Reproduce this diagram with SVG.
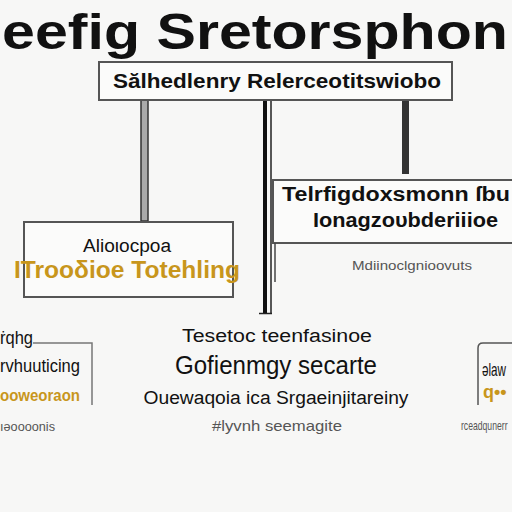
<svg xmlns="http://www.w3.org/2000/svg" width="512" height="512" viewBox="0 0 512 512">
<style>
.box{fill:#fbfbfa;stroke:#555;stroke-width:2}
.blk{font-family:"Liberation Sans",Arial,sans-serif;fill:#111}
.b{font-weight:bold}
.org{font-family:"Liberation Sans",Arial,sans-serif;fill:#c8961c;font-weight:bold}
.gry{font-family:"Liberation Sans",Arial,sans-serif;fill:#555}
</style>
<rect width="512" height="512" fill="#f7f7f6"/>
<g id="title">
<text class="blk b" x="2" y="49" font-size="50" textLength="506" lengthAdjust="spacingAndGlyphs">eefig Sretorsphon</text>
</g>
<g id="connectors">
<rect x="141" y="100" width="7" height="121" fill="#aaa" stroke="#333" stroke-width="1.5"/>
<rect x="263" y="100" width="4" height="213" fill="#111"/>
<line x1="271" y1="100" x2="271" y2="313" stroke="#222" stroke-width="1.5"/>
<line x1="259" y1="313.5" x2="272" y2="313.5" stroke="#222" stroke-width="1.5"/>
<rect x="402" y="100" width="7" height="74" fill="#333"/>
</g>
<g id="top">
<rect class="box" x="99" y="62" width="353" height="38"/>
<text class="blk b" x="113" y="88" font-size="21" textLength="328" lengthAdjust="spacingAndGlyphs">Sălhedlenry  Relerceotitswiobo</text>
</g>
<g id="left">
<rect class="box" x="24" y="222" width="209" height="75"/>
<text class="blk" x="127" y="252" font-size="18" text-anchor="middle" textLength="88" lengthAdjust="spacingAndGlyphs">Alioιocpoa</text>
<text class="org" x="14" y="278" font-size="23" textLength="226" lengthAdjust="spacingAndGlyphs">ITrooδioe Totehling</text>
</g>
<g id="right">
<rect class="box" x="273" y="180" width="250" height="63"/>
<text class="blk b" x="282" y="201" font-size="20" textLength="228" lengthAdjust="spacingAndGlyphs">Telrfigdoxsmonn ſbu</text>
<text class="blk b" x="313" y="227" font-size="20" textLength="185" lengthAdjust="spacingAndGlyphs">Ionagzoυbderiiioe</text>
<line x1="275" y1="243" x2="275" y2="282" stroke="#444" stroke-width="1.5"/>
<text class="gry" x="412" y="270" font-size="13" text-anchor="middle" textLength="120" lengthAdjust="spacingAndGlyphs">Mdiinoclgnioovuts</text>
</g>
<g id="center">
<text class="blk" x="277" y="342" font-size="18" text-anchor="middle" textLength="190" lengthAdjust="spacingAndGlyphs">Tesetoc  teenfasinoe</text>
<text class="blk" x="276" y="374" font-size="25" text-anchor="middle" textLength="202" lengthAdjust="spacingAndGlyphs">Gofienmgy secarte</text>
<text class="blk" x="276" y="404" font-size="18" text-anchor="middle" textLength="265" lengthAdjust="spacingAndGlyphs">Ouewaqoia ica Srgaeinjitareiny</text>
<text class="gry" x="277" y="431" font-size="15" text-anchor="middle" textLength="130" lengthAdjust="spacingAndGlyphs">#lyvnh seemagite</text>
</g>
<g id="bottomleft">
<path d="M33 343 H92 V405" fill="none" stroke="#777" stroke-width="1.5"/>
<text class="blk" x="0" y="344" font-size="18" textLength="33" lengthAdjust="spacingAndGlyphs">ṙqhg</text>
<text class="blk" x="0" y="372" font-size="19" textLength="80" lengthAdjust="spacingAndGlyphs">rvhuuticing</text>
<text class="org" x="0" y="401" font-size="16" textLength="80" lengthAdjust="spacingAndGlyphs">ooweoraon</text>
<text class="gry" x="0" y="431" font-size="13" textLength="55" lengthAdjust="spacingAndGlyphs">ıǝoooonis</text>
</g>
<g id="bottomright">
<path d="M478 405 V348 Q478 343 483 343 H520" fill="none" stroke="#555" stroke-width="1.5"/>
<text class="blk" transform="translate(482 376) scale(0.65 1)" font-size="18">ǝlaw</text>
<text class="org" x="483" y="398" font-size="18">q••</text>
<text class="gry" transform="translate(461 430) scale(0.72 1)" font-size="12">rceadqunerr</text>
</g>
</svg>
